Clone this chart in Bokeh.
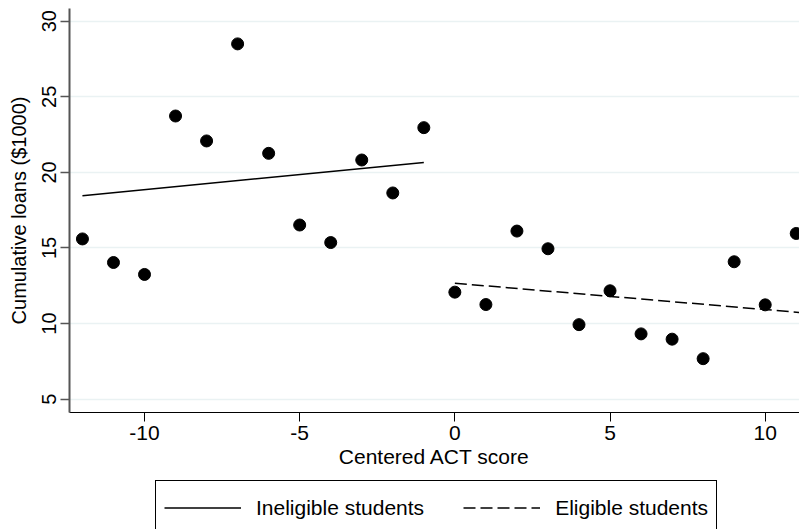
from bokeh.plotting import figure
from bokeh.models import FixedTicker, Legend, LegendItem, Range1d
from bokeh.layouts import column
from bokeh.embed import file_html
from bokeh.resources import INLINE

# Data
x_inel = [-12, -11, -10, -9, -8, -7, -6, -5, -4, -3, -2, -1]
y_inel = [15.6, 14.04, 13.25, 23.73, 22.08, 28.5, 21.26, 16.52, 15.36, 20.82, 18.64, 22.96]
x_el = [0, 1, 2, 3, 4, 5, 6, 7, 8, 9, 10, 11]
y_el = [12.08, 11.26, 16.12, 14.95, 9.93, 12.17, 9.32, 8.97, 7.68, 14.09, 11.24, 15.96]

fit_inel_x = [-12, -1]
fit_inel_y = [18.46, 20.66]
fit_el_x = [0, 11.2]
fit_el_y = [12.67, 10.72]

x_ticks = [-10, -5, 0, 5, 10]
x_tick_labels = {-10: "-10", -5: "-5", 0: "0", 5: "5", 10: "10"}
y_ticks = [5, 10, 15, 20, 25, 30]
legend_labels = ["Ineligible students", "Eligible students"]

FONT = "Liberation Sans"
DASH = "12 5"

p = figure(frame_width=730, frame_height=404, output_backend="svg", toolbar_location=None,
           x_range=Range1d(-12.417, 11.105), y_range=Range1d(4.12, 30.84),
           min_border_left=69, min_border_right=0, min_border_top=8, min_border_bottom=68)
p.outline_line_color = None
p.background_fill_color = "white"

# grids
p.xgrid.grid_line_color = None
p.ygrid.grid_line_color = "#eaf2f3"
p.ygrid.grid_line_width = 1.5
p.ygrid.ticker = FixedTicker(ticks=y_ticks)

# axes
p.xaxis.ticker = FixedTicker(ticks=x_ticks)
p.xaxis.major_label_overrides = x_tick_labels
p.yaxis.ticker = FixedTicker(ticks=y_ticks)
p.xaxis.axis_label = "Centered ACT score"
p.yaxis.axis_label = "Cumulative loans ($1000)"
for ax in (p.xaxis[0], p.yaxis[0]):
    ax.major_label_text_font = FONT
    ax.major_label_text_color = "black"
    ax.axis_label_text_font = FONT
    ax.axis_label_text_font_style = "normal"
    ax.axis_label_text_color = "black"
    ax.minor_tick_line_color = None
    ax.major_tick_in = 0
    ax.major_tick_out = 9
    ax.major_label_standoff = 4
p.xaxis.major_label_text_font_size = "21px"
p.xaxis.axis_label_text_font_size = "21px"
p.xaxis.axis_label_standoff = 2
p.yaxis.major_label_text_font_size = "20px"
p.yaxis.axis_label_text_font_size = "20px"
p.yaxis.axis_label_standoff = 10
p.xaxis.axis_line_color = "black"
p.xaxis.major_tick_line_color = "black"
p.yaxis.axis_line_color = "#555555"
p.yaxis.axis_line_width = 2
p.yaxis.major_tick_line_color = "#555555"
p.yaxis.major_tick_line_width = 1.5
p.yaxis.major_label_orientation = "vertical"

# glyphs
p.scatter(x_inel, y_inel, size=12, color="black")
p.scatter(x_el, y_el, size=12, color="black")
p.line(fit_inel_x, fit_inel_y, line_color="black", line_width=1.5)
p.line(fit_el_x, fit_el_y, line_color="black", line_width=1.5, line_dash=DASH)

# legend strip below the plot (its frame aligns with the main frame: x from 69 to 799)
lf = figure(frame_width=730, frame_height=49, output_backend="svg", toolbar_location=None,
            x_range=Range1d(0, 1), y_range=Range1d(0, 1),
            x_axis_type=None, y_axis_type=None,
            min_border_left=69, min_border_right=0, min_border_top=0, min_border_bottom=0)
lf.outline_line_color = None
lf.xgrid.grid_line_color = None
lf.ygrid.grid_line_color = None
# keys for the legend only: their data lie outside the visible range
l1 = lf.line([5, 6], [5, 6], line_color="black", line_width=1.5)
l2 = lf.line([5, 6], [5, 6], line_color="black", line_width=1.5, line_dash=DASH)

legend = Legend(items=[LegendItem(label=legend_labels[0], renderers=[l1]),
                       LegendItem(label=legend_labels[1], renderers=[l2])],
                orientation="horizontal",
                label_text_font=FONT, label_text_font_size="21px", label_text_color="black",
                glyph_width=77, glyph_height=37, label_standoff=15, spacing=39,
                padding=8, margin=0,
                border_line_color="black", border_line_width=1, border_line_alpha=1,
                background_fill_color="white")
legend.location = (86, -6)
lf.add_layout(legend)

layout = column(p, lf, spacing=0)
open("out.html", "w").write(file_html(layout, INLINE))
